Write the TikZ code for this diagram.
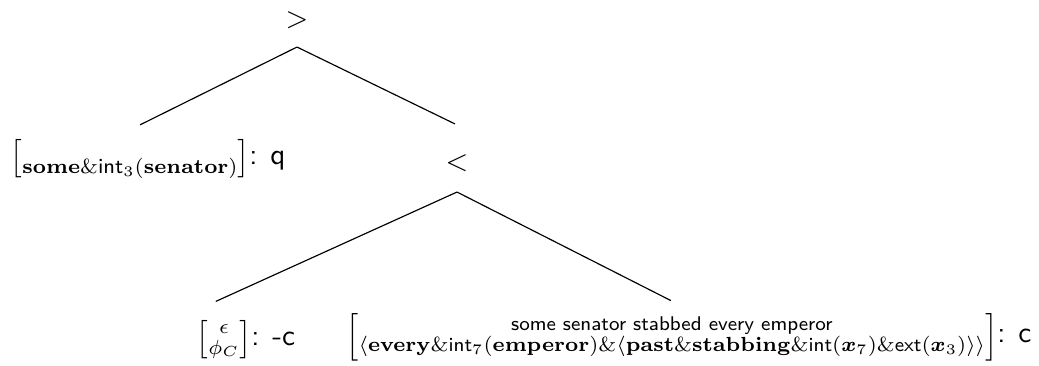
\documentclass[tikz,border=0pt]{standalone}
\usepackage{amsmath,amssymb,bm}
\usepackage{tikz}
\usetikzlibrary{positioning,calc}

\newcommand{\fint}{\textsf{int}}
\newcommand{\fext}{\textsf{ext}}
\newcommand{\lexitem}[2]{{\renewcommand{\arraystretch}{0.8}%
  $\left[\begin{array}{@{}c@{}}#1\\#2\end{array}\right]$}}

\begin{document}
\begin{tikzpicture}[
    x=0.01204cm,y=-0.01204cm,
    lbl/.style={inner sep=0pt,font=\normalsize\sffamily},
    leaf/.style={inner sep=0pt,anchor=west,font=\fontsize{7.3}{8.5}\selectfont},
    edge/.style={line width=0.4pt}
  ]
    \useasboundingbox (0,0) rectangle (1039,366);
    % root and inner nodes
    \node[lbl] (gt) at (297,20) {>};
    \node[lbl] (lt) at (457,163) {<};
    % leaves
    \node[leaf] (sq) at (10,159)
      {\lexitem{}{\mathbf{some}\&\fint_3(\mathbf{senator})}\textsf{\normalsize: q}};
    \node[leaf] (ec) at (196,340)
      {\lexitem{\epsilon}{\phi_C}\textsf{\normalsize: -c}};
    \node[leaf,anchor=east,font=\fontsize{6.8}{8}\selectfont] (big) at (1032,337)
      {\lexitem{\text{\sffamily some senator stabbed every emperor}}{\langle\mathbf{every}\&\fint_7(\mathbf{emperor})\&\langle\mathbf{past}\&\mathbf{stabbing}\&\fint(\bm{x}_7)\&\fext(\bm{x}_3)\rangle\rangle}\textsf{\normalsize: c}};
    % branches
    \draw[edge] ($(gt.south)+(0,18)$) -- ($(sq.north)+(-8,-13)$);
    \draw[edge] ($(gt.south)+(0,18)$) -- ($(lt.north)+(-2,-30)$);
    \draw[edge] ($(lt.south)+(0,20)$) -- ($(ec.north)+(-30,-18)$);
    \draw[edge] ($(lt.south)+(0,20)$) -- ($(big.north)+(-18,-12)$);
\end{tikzpicture}
\end{document}
